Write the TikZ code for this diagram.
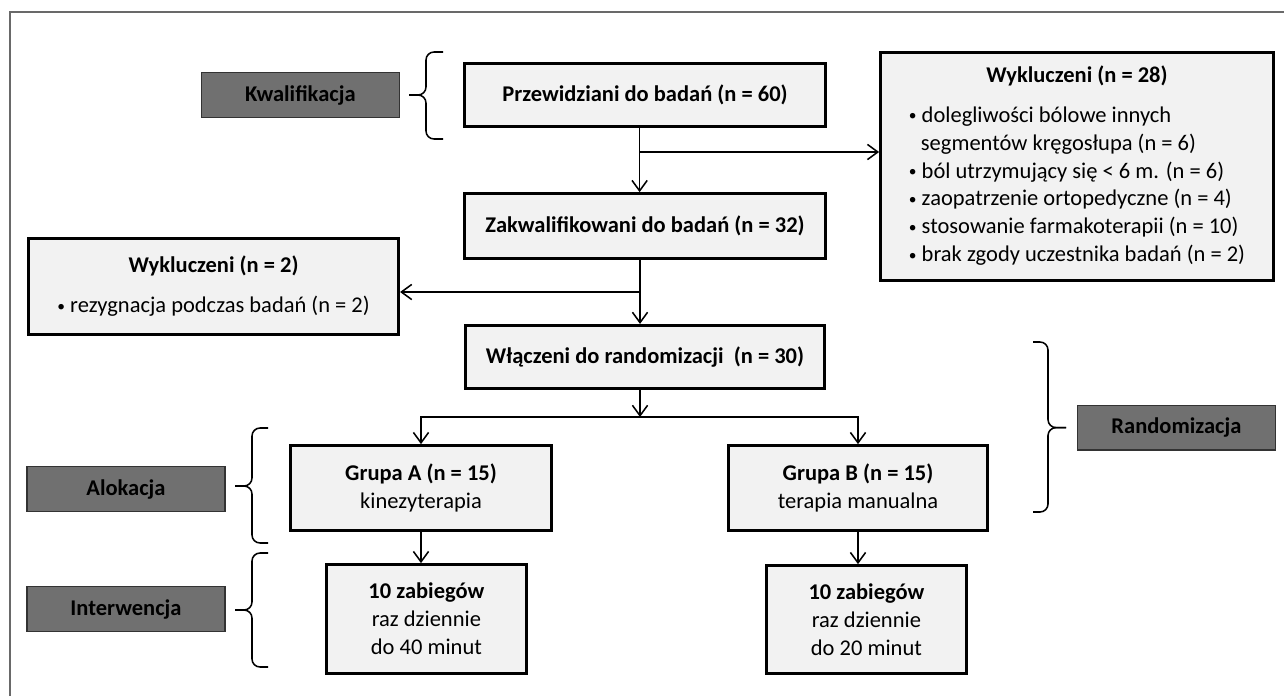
\documentclass[tikz,border=0pt]{standalone}
\usepackage{fontspec}
\setmainfont{Carlito}
\usepackage{tikz}
\usetikzlibrary{arrows.meta}
\definecolor{boxgrey}{RGB}{242,242,242}
\definecolor{phasegrey}{RGB}{112,112,112}
\definecolor{framegrey}{RGB}{105,105,105}
\newcommand{\listdot}{{\fontsize{11}{11}\selectfont\raisebox{0.15ex}{•}}}
\tikzstyle{none}=[inner sep=0pt]
\tikzstyle{flowbox}=[rectangle,fill=boxgrey,draw=black,line width=2.1pt,align=center,font=\fontsize{16}{19.9}\selectfont]
\tikzstyle{phasebox}=[rectangle,fill=phasegrey,draw=black!80,line width=1pt,minimum width=4.94cm,minimum height=1.12cm,font=\bfseries\fontsize{16}{19}\selectfont]
\tikzstyle{inarrow}=[->, >={Straight Barb[length=2.6mm,width=3.8mm]}, line width=1.1pt]
\tikzstyle{bracket}=[rounded corners=0.2cm, line width=1.1pt]
\pgfdeclarelayer{edgelayer}
\pgfdeclarelayer{nodelayer}
\pgfsetlayers{edgelayer,nodelayer,main}

\begin{document}
\begin{tikzpicture}
	\useasboundingbox (0, 0) rectangle (32.1, -17.4);
	\begin{pgfonlayer}{nodelayer}
		\node [style=phasebox] (kwal) at (7.51, -2.375) {Kwalifikacja};
		\node [style=phasebox] (rand) at (29.41, -10.69) {Randomizacja};
		\node [style=phasebox] (alok) at (3.15, -12.225) {Alokacja};
		\node [style=phasebox] (inter) at (3.15, -15.225) {Interwencja};
		\node [style=flowbox, minimum width=9.02cm, minimum height=1.58cm] (prz) at (16.125, -2.375) {\textbf{Przewidziani do badań (n = 60)}};
		\node [style=flowbox, minimum width=9.02cm, minimum height=1.62cm] (zak) at (16.125, -5.65) {\textbf{Zakwalifikowani do badań (n = 32)}};
		\node [style=flowbox, minimum width=8.98cm, minimum height=1.58cm] (wl) at (16.125, -8.925) {\textbf{Włączeni do randomizacji\ \ (n = 30)}};
		\node [style=flowbox, minimum width=9.82cm, minimum height=5.7cm, inner xsep=0pt] (wyk28) at (26.925, -4.16) {\begin{tabular}{@{}l@{}}
			\multicolumn{1}{@{}c@{}}{\textbf{Wykluczeni (n = 28)}}\\[0.3cm]
			\listdot\ dolegliwości bólowe innych\\
			\hspace*{0.3cm}segmentów kręgosłupa (n = 6)\\
			\listdot\ ból utrzymujący się < 6 m. (n = 6)\\
			\listdot\ zaopatrzenie ortopedyczne (n = 4)\\
			\listdot\ stosowanie farmakoterapii (n = 10)\\
			\listdot\ brak zgody uczestnika badań (n = 2)
		\end{tabular}};
		\node [style=flowbox, minimum width=9.25cm, minimum height=2.4cm] (wyk2) at (5.34, -7.16) {\textbf{Wykluczeni (n = 2)}\\[0.3cm]\listdot\ rezygnacja podczas badań (n = 2)};
		\node [style=flowbox, minimum width=6.52cm, minimum height=2.12cm] (grA) at (10.525, -12.2) {\textbf{Grupa A (n = 15)}\\kinezyterapia};
		\node [style=flowbox, minimum width=6.48cm, minimum height=2.12cm] (grB) at (21.45, -12.2) {\textbf{Grupa B (n = 15)}\\terapia manualna};
		\node [style=flowbox, minimum width=5.0cm, minimum height=2.72cm] (zabA) at (10.66, -15.475) {\textbf{10 zabiegów}\\raz dziennie\\do 40 minut};
		\node [style=flowbox, minimum width=5.0cm, minimum height=2.7cm] (zabB) at (21.66, -15.49) {\textbf{10 zabiegów}\\raz dziennie\\do 20 minut};
		\node [style=none] (b1) at (15.99, -3.8) {};
		\node [style=none] (b2) at (16.0, -7.3) {};
		\node [style=none] (b3) at (16.0, -10.425) {};
		\node [style=none] (f1) at (0.25, -17.4) {};
		\node [style=none] (f2) at (0.25, -0.3) {};
		\node [style=none] (f3) at (32.1, -0.3) {};
	\end{pgfonlayer}
	\begin{pgfonlayer}{edgelayer}
		\draw [draw=framegrey, line width=1.4pt] (f1.center) -- (f2.center) -- (f3.center);
		\draw [style=inarrow] (b1 |- prz.south) to (b1 |- zak.north);
		\draw [style=inarrow] (b1.center) to (b1 -| wyk28.west);
		\draw [style=inarrow] (b2 |- zak.south) to (b2 |- wl.north);
		\draw [style=inarrow] (b2.center) to (b2 -| wyk2.east);
		\draw [style=inarrow] (b3 |- wl.south) to (b3.center);
		\draw [style=inarrow] (b3.center) -| (grA.north);
		\draw [style=inarrow] (b3.center) -| (grB.north);
		\draw [style=inarrow] (grA.south) to (grA.south |- zabA.north);
		\draw [style=inarrow] (grB.south) to (grB.south |- zabB.north);
		\draw [style=bracket] (11.075, -1.3) -- (10.65, -1.3) -- (10.65, -2.375) -- (10.225, -2.375);
		\draw [style=bracket] (10.225, -2.375) -- (10.65, -2.375) -- (10.65, -3.475) -- (11.075, -3.475);
		\draw [style=bracket] (25.825, -8.55) -- (26.2, -8.55) -- (26.2, -10.69) -- (26.65, -10.69);
		\draw [style=bracket] (26.65, -10.69) -- (26.2, -10.69) -- (26.2, -12.8) -- (25.825, -12.8);
		\draw [style=bracket] (6.7, -10.7) -- (6.3, -10.7) -- (6.3, -12.15) -- (5.875, -12.15);
		\draw [style=bracket] (5.875, -12.15) -- (6.3, -12.15) -- (6.3, -13.575) -- (6.7, -13.575);
		\draw [style=bracket] (6.7, -13.825) -- (6.3, -13.825) -- (6.3, -15.25) -- (5.875, -15.25);
		\draw [style=bracket] (5.875, -15.25) -- (6.3, -15.25) -- (6.3, -16.675) -- (6.7, -16.675);
	\end{pgfonlayer}
\end{tikzpicture}
\end{document}
